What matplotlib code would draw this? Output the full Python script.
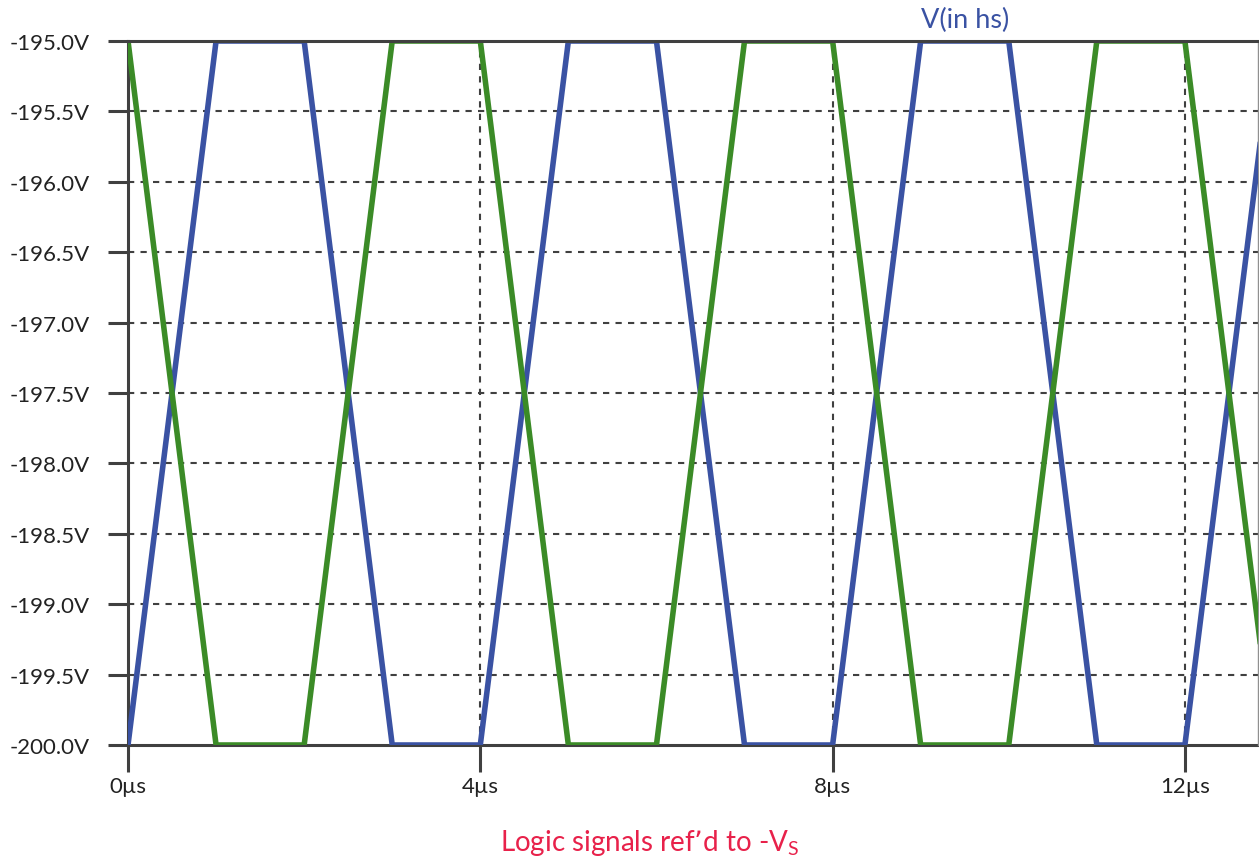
import numpy as np
import matplotlib.pyplot as plt

plt.rcParams['font.family'] = ['Lato', 'DejaVu Sans']

# time in microseconds, voltages in volts
t_us = [0, 1, 2, 3, 4, 5, 6, 7, 8, 9, 10, 11, 12, 13]
v_in_hs = [-200, -195, -195, -200, -200, -195, -195, -200, -200, -195, -195, -200, -200, -195]
v_other = [-195, -200, -200, -195, -195, -200, -200, -195, -195, -200, -200, -195, -195, -200]

y_ticks = [-195.0, -195.5, -196.0, -196.5, -197.0, -197.5, -198.0, -198.5, -199.0, -199.5, -200.0]
x_ticks = [0, 4, 8, 12]
x_labels = ['0µs', '4µs', '8µs', '12µs']

blue = '#3a52a3'
green = '#3b8b27'
axcol = '#404040'

fig = plt.figure(figsize=(12.59, 8.62), dpi=100)
ax = fig.add_axes([128/1259, 1 - 746/862, 1130/1259, 704/862])

ax.set_xlim(0, 12.83)
ax.set_ylim(-200, -195)

# grid
for y in y_ticks[1:-1]:
    ax.axhline(y, color=axcol, lw=1.5, ls=(0, (3, 3)), zorder=1)
for x in x_ticks[1:]:
    ax.axvline(x, color=axcol, lw=1.5, ls=(0, (3, 3)), zorder=1)

ax.plot(t_us, v_in_hs, color=blue, lw=4.0, zorder=3, solid_joinstyle='miter')
ax.plot(t_us, v_other, color=green, lw=4.0, zorder=3, solid_joinstyle='miter')

ax.axhline(-195, color=axcol, lw=2.2, zorder=4, clip_on=False)

ax.spines['top'].set_visible(False)
ax.spines['right'].set_color('#909090')
ax.spines['right'].set_linewidth(1)
for s in ['left', 'bottom']:
    ax.spines[s].set_color(axcol)
    ax.spines[s].set_linewidth(2.2)
    ax.spines[s].set_zorder(2)

ax.set_yticks(y_ticks)
ax.set_yticklabels(['%.1fV' % y for y in y_ticks])
ax.set_xticks(x_ticks)
ax.set_xticklabels(x_labels)
ax.tick_params(axis='y', length=14.5, width=2.2, color=axcol, labelsize=16,
               labelcolor='#222222', pad=13)
ax.tick_params(axis='x', length=19.5, width=2.2, color=axcol, labelsize=16,
               labelcolor='#222222', pad=3)

fig.text(965/1259, 1 - 20/862, 'V(in hs)', color=blue, fontsize=19.5, ha='center', va='center')
fig.text(650/1259, 1 - 843/862, 'Logic signals ref\u2019d to -V$_\\mathregular{S}$',
         color='#e8214a', fontsize=20, ha='center', va='center')

fig.savefig('out.png', dpi=100)
